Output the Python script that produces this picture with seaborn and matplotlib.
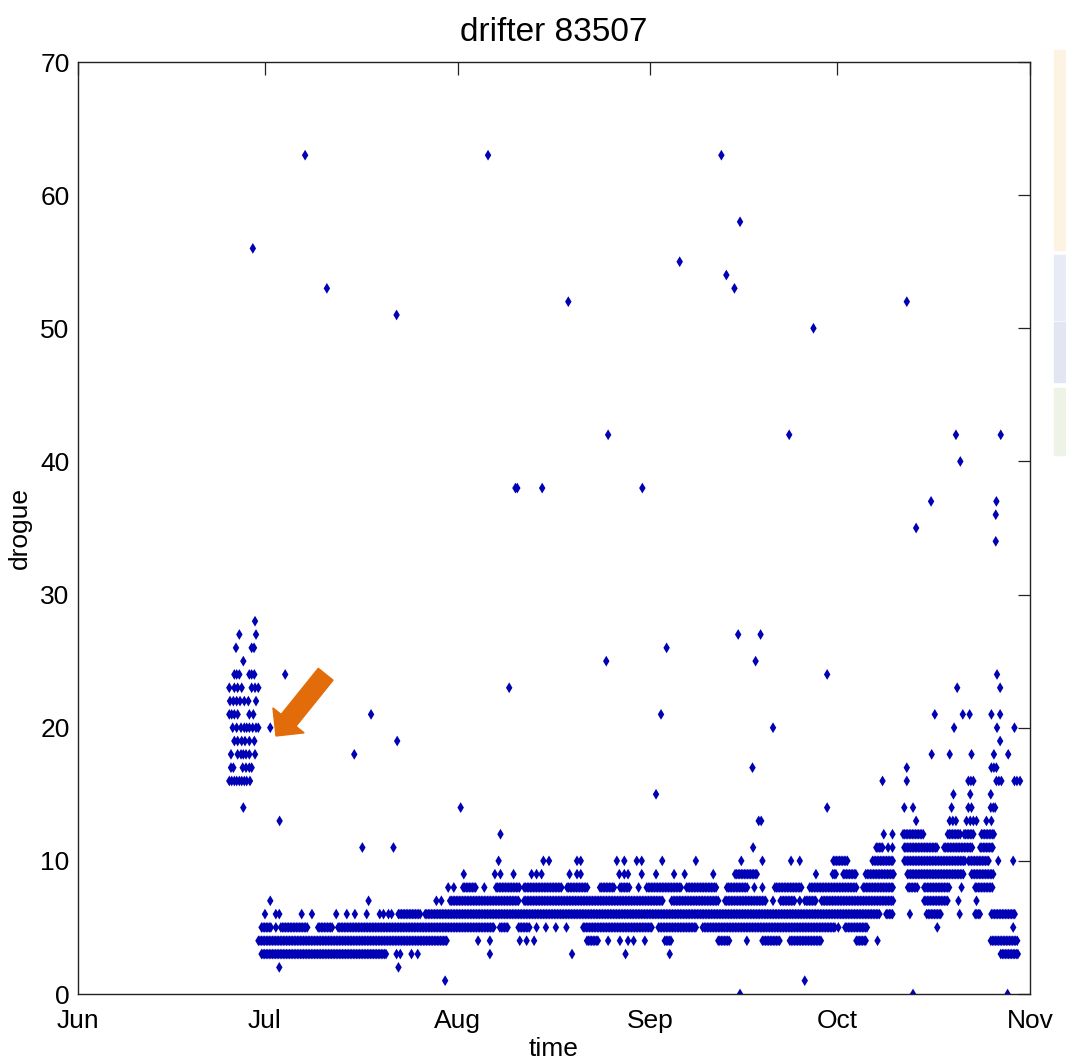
import numpy as np
import pandas as pd
import matplotlib
matplotlib.use("Agg")
import matplotlib.pyplot as plt
import seaborn as sns
from matplotlib.patches import FancyArrow, Rectangle

# eixo x em dias desde 1 de junho
month_start = [0, 30, 61, 92, 122, 153]
month_label = ["Jun", "Jul", "Aug", "Sep", "Oct", "Nov"]
y_ticks = [0, 10, 20, 30, 40, 50, 60, 70]

# amostras por nivel do drogue: numero = observacao isolada,
# par (inicio, fim) = trecho continuo de observacoes
nivel_00 = [106.4, 134.2, 149.4]
nivel_01 = [59.0, 116.8]
nivel_02 = [32.35, 51.5]
nivel_03 = [(29.5, 49.6), 51.2, 51.8, 53.6, 54.6, 66.2, 79.4, 88.0, 95.1, (148.3, 151.1)]
nivel_04 = [(29.0, 59.3), 64.3, 66.2, 71.0, 72.1, 73.3, (81.8, 83.6), 85.2, 87.1, 88.4, 89.3,
            91.1, (94.3, 95.4), (102.9, 104.8), 107.5, (110.0, 112.8), (114.4, 119.5),
            (125.1, 126.8), 128.5, (146.7, 151.1)]
nivel_05 = [(29.5, 31.1), 31.8, (32.6, 37.0), (38.6, 41.0), (41.8, 67.0), (67.8, 69.2),
            (70.8, 72.6), 73.7, 75.2, 76.8, 78.5, (81.2, 92.2), (93.3, 99.4), (100.4, 121.7),
            122.2, (123.3, 127.0), 138.1, 150.3]
nivel_06 = [30.05, 31.8, 32.35, 35.95, 37.6, 41.5, 43.2, 44.5, 46.4, 48.5, 49.1, 49.9, 50.4,
            (51.5, 55.0), (55.8, 128.9), (129.9, 131.0), 133.7, (136.4, 138.8), 141.7,
            (144.2, 145.0), (146.8, 150.6)]
nivel_07 = [30.9, 46.7, 57.6, 58.4, (59.8, 71.0), (71.7, 94.1), (95.4, 102.9), (104.0, 110.7),
            111.7, (112.9, 115.2), 116.0, (116.8, 118.7), (119.5, 131.1), (136.0, 139.9),
            141.5, 144.4]
nivel_08 = [59.5, 60.4, (61.9, 64.1), 65.3, (67.2, 71.0), (71.7, 77.9), (78.6, 82.0),
            (83.9, 86.3), (87.1, 88.7), 90.1, (91.4, 97.0), (97.8, 102.6), (104.3, 107.7),
            108.7, 110.0, (112.0, 116.3), (117.6, 125.1), (126.2, 131.1), (133.4, 135.0),
            (136.0, 140.1), 142.0, (144.2, 147.1)]
nivel_09 = [62.0, 67.0, 67.9, 70.0, 72.9, 73.7, 74.5, 79.0, 80.2, 80.8, 87.0, 87.8, 88.4,
            90.6, 92.9, 95.8, 97.5, 102.1, (105.6, 109.1), 118.6, (121.3, 121.9),
            (123.0, 125.0), (126.6, 131.1), (133.3, 142.3), (143.6, 147.2)]
nivel_10 = [67.6, 74.8, 75.7, 80.2, 80.8, 86.6, 87.8, 89.8, 90.6, 93.9, 99.3, 106.6, 110.0,
            114.6, 116.0, (121.4, 123.7), (127.7, 131.1), (132.8, 142.6), (143.1, 146.5),
            147.9, 150.3]
nivel_11 = [45.7, 50.7, 108.5, (128.3, 129.3), 130.2, 130.9, (132.8, 138.1), (139.2, 143.9),
            (145.0, 147.0)]
nivel_12 = [67.9, 129.5, 130.9, (132.6, 135.9), (139.8, 141.8), (142.4, 144.1), (145.2, 147.3)]
nivel_13 = [32.4, 109.4, 109.8, 134.7, 140.1, 140.6, 141.1, 142.8, 143.4, 143.9, 144.4,
            146.0, 146.8]
nivel_14 = [26.57, 61.5, 120.4, 132.8, 134.2, 140.4, 143.1, 143.6, 146.7, 147.1, 147.4]
nivel_15 = [92.9, 140.7, 143.4, 146.7]
nivel_16 = [24.32, 24.70, 25.13, 25.50, 25.93, 26.31, 26.73, 27.11, 27.64,
            129.3, 133.2, 143.1, 143.5, 143.9, 147.6, 148.0, 148.4, 150.5, 150.9, 151.4]
nivel_17 = [24.59, 24.97, 26.47, 27.00, 27.54, 27.91, 108.4, 133.2, 146.8, 147.2, 147.6]
nivel_18 = [24.59, 25.66, 26.20, 26.57, 27.00, 27.54, 28.45, 44.4, 137.2, 140.1, 143.6,
            147.2, 149.5]
nivel_19 = [25.13, 25.66, 26.31, 26.84, 27.54, 28.34, 51.3, 148.2]
nivel_20 = [24.86, 25.50, 26.20, 26.73, 27.11, 27.54, 28.07, 28.61, 28.98, 30.9, 111.7,
            140.8, 147.7, 150.5]
nivel_21 = [24.32, 24.70, 25.13, 25.66, 27.54, 28.18, 47.1, 93.7, 137.7, 142.2, 143.3,
            146.8, 148.2]
nivel_22 = [24.43, 24.97, 25.50, 26.04, 26.73, 27.38, 28.61]
nivel_23 = [24.32, 25.13, 25.66, 26.31, 27.91, 28.45, 28.98, 69.3, 141.3, 148.2]
nivel_24 = [25.13, 25.50, 25.93, 27.54, 27.91, 28.34, 33.3, 120.4, 147.7]
nivel_25 = [26.57, 84.9, 108.9]
nivel_26 = [25.39, 27.91, 28.29, 94.6]
nivel_27 = [25.93, 28.61, 106.1, 109.7]
nivel_28 = [28.45]

# valores altos isolados
alto_dia = [147.5, 134.7, 147.5, 137.1, 147.6, 70.3, 70.6, 74.6, 90.7, 141.8, 85.2, 114.3,
            141.1, 148.3, 118.2, 51.2, 78.8, 133.2, 40.0, 105.5, 104.2, 96.7, 28.1, 106.4,
            36.5, 65.9, 103.4]
alto_val = [34, 35, 36, 37, 37, 38, 38, 38, 38, 40, 42, 42,
            42, 42, 50, 51, 52, 52, 53, 53, 54, 55, 56, 58,
            63, 63, 63]

niveis = [nivel_00, nivel_01, nivel_02, nivel_03, nivel_04, nivel_05, nivel_06, nivel_07,
          nivel_08, nivel_09, nivel_10, nivel_11, nivel_12, nivel_13, nivel_14, nivel_15,
          nivel_16, nivel_17, nivel_18, nivel_19, nivel_20, nivel_21, nivel_22, nivel_23,
          nivel_24, nivel_25, nivel_26, nivel_27, nivel_28]

passo = 0.25  # intervalo entre amostras nos trechos continuos (dias)

dias, valores = [], []
for nivel, amostras in enumerate(niveis):
    for a in amostras:
        if isinstance(a, tuple):
            t = np.arange(a[0], a[1] + 1e-9, passo)
        else:
            t = np.array([a])
        dias.extend(t)
        valores.extend([nivel] * len(t))
dias.extend(alto_dia)
valores.extend(alto_val)
df = pd.DataFrame({"time": dias, "drogue": valores})

sns.set_style("white")
plt.rcParams["font.family"] = ["Liberation Sans", "DejaVu Sans"]
plt.rcParams["text.color"] = "black"
plt.rcParams["axes.labelcolor"] = "black"

fig = plt.figure(figsize=(10.66, 10.64), dpi=100)
ax = fig.add_axes([78 / 1066, 1 - 994 / 1064, 952 / 1066, 932 / 1064])

sns.scatterplot(data=df, x="time", y="drogue", ax=ax, marker="d", s=30,
                color="#0000b4", edgecolor="none", linewidth=0, legend=False)

ax.set_xlim(month_start[0], month_start[-1])
ax.set_ylim(0, 70)
ax.set_xticks(month_start)
ax.set_xticklabels(month_label)
ax.set_yticks(y_ticks)
ax.tick_params(direction="in", length=9, width=0.9, labelsize=19,
               top=True, right=True, colors="#222222", labelcolor="black")
ax.tick_params(axis="x", pad=11)
ax.tick_params(axis="y", pad=6)
for s in ax.spines.values():
    s.set_visible(True)
    s.set_color("#222222")
    s.set_linewidth(1.0)
ax.set_xlabel("time", fontsize=19, labelpad=3)
ax.set_ylabel("drogue", fontsize=19, labelpad=6)
ax.set_title("drifter 83507", fontsize=24, pad=15, color="black")

# seta laranja apontando o ponto do inicio de julho
fig.patches.append(FancyArrow(0.3055, 0.3663, -0.0466, -0.0580, width=0.0178,
                              head_width=0.0375, head_length=0.0188,
                              length_includes_head=True, color="#e36c0a",
                              transform=fig.transFigure, zorder=5))

# restos do fundo do slide na borda direita
for y0, y1, cor in [(50, 250, "#fdf3e2"), (255, 320, "#e6ebf6"),
                    (322, 382, "#e2e6f3"), (388, 455, "#edf3e6")]:
    fig.patches.append(Rectangle((1054 / 1066, 1 - y1 / 1064), 12 / 1066, (y1 - y0) / 1064,
                                 color=cor, transform=fig.transFigure, zorder=0))

fig.savefig("out.png", dpi=100)
